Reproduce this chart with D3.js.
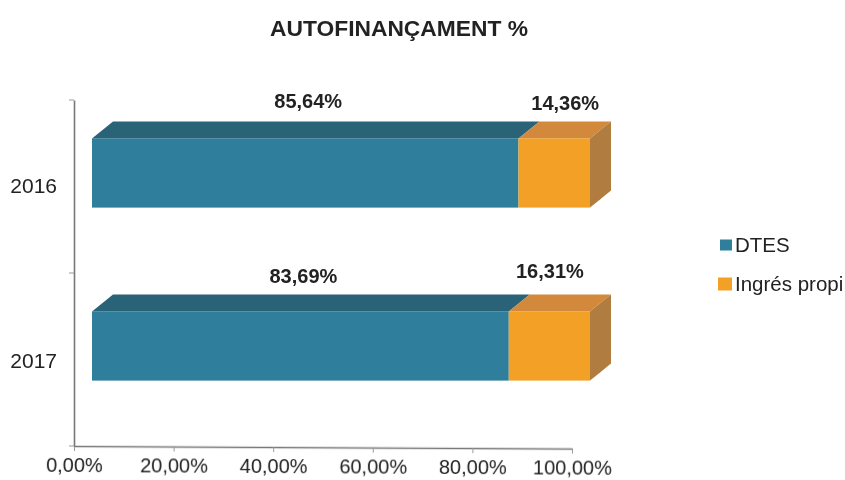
<!DOCTYPE html>
<html><head><meta charset="utf-8">
<script src="https://cdn.jsdelivr.net/npm/d3@7"></script>
<style>html,body{margin:0;background:#fff}svg{display:block}text{font-family:"Liberation Sans",Arial,sans-serif;fill:#222}</style>
</head><body><svg id="c" width="845" height="480"></svg>
<script>
const categories = ["2016","2017"];
const seriesNames = ["DTES","Ingrés propi"];
const dtes = [85.64,83.69];
const ingres = [14.36,16.31];
const xTicks = [0,20,40,60,80,100];
const title = "AUTOFINANÇAMENT %";

const svg = d3.select("#c");
const fmt = v => v.toFixed(2).replace(".",",")+"%";
const x = d3.scaleLinear().domain([0,100]).range([74,572]);
const y = d3.scaleBand().domain(categories).range([100,446]).paddingInner(.6).paddingOuter(.3);
const yAxisBand = d3.scaleBand().domain(categories).range([100,446]);
const front = {dx:18,dy:-13.5}, depth = {dx:21,dy:-17};
const pal = [{f:"#2f7e9c",t:"#2b6378",s:"#2b6378"},{f:"#f2a128",t:"#d2893a",s:"#b17c40"}];
const defs = svg.append("defs");
defs.append("filter").attr("id","scan").append("feGaussianBlur").attr("stdDeviation",0.4);
const root = svg.append("g").attr("filter","url(#scan)");

root.append("text").attr("x",399).attr("y",36).attr("text-anchor","middle").attr("font-size",22.8).attr("font-weight","bold").text(title);

const gx = root.append("g").attr("transform","rotate(0.3 74 446) translate(0,446)")
  .call(d3.axisBottom(x).tickValues(xTicks).tickFormat(v=>fmt(v)).tickSize(5).tickSizeOuter(0));
const gy = root.append("g").attr("transform","translate(74,0)")
  .call(d3.axisLeft(yAxisBand).tickSize(0).tickPadding(17));
gy.append("g").selectAll("line").data([100,273,446]).join("line")
  .attr("x1",-5).attr("x2",0).attr("y1",d=>d).attr("y2",d=>d).attr("stroke","#999");
root.selectAll(".domain").attr("stroke","#777").attr("stroke-width",1.6);
gx.selectAll(".tick line").attr("stroke","#999");
gx.selectAll("text").attr("font-size",20).attr("y",8).attr("dy","0.9em").attr("fill","#333");
gy.selectAll("text").attr("font-size",21).attr("fill","#333").attr("dy",(d,i)=>i?"0.42em":"0.32em");
gx.attr("font-family",null); gy.attr("font-family",null);

const pts = a => a.map(p=>p.join(",")).join(" ");
const labelOff = [[[3,-1.5],[11,0.5]],[[3,0.5],[0.5,-4]]];
categories.forEach((c,i)=>{
  const top = y(c)+front.dy, h = y.bandwidth();
  const segs = [[0,dtes[i]],[dtes[i],100]];
  const g = root.append("g");
  segs.forEach(([a,b],k)=>{
    const x0 = x(a)+front.dx, x1 = x(b)+front.dx;
    g.append("polygon").attr("fill",pal[k].t).attr("points",pts([[x0,top],[x1,top],[x1+depth.dx,top+depth.dy],[x0+depth.dx,top+depth.dy]]));
    g.append("rect").attr("x",x0).attr("y",top).attr("width",x1-x0).attr("height",h).attr("fill",pal[k].f);
    if(k===1) g.append("polygon").attr("fill",pal[k].s).attr("points",pts([[x1,top],[x1+depth.dx,top+depth.dy],[x1+depth.dx,top+h+depth.dy],[x1,top+h]]));
    const v = k===0?dtes[i]:ingres[i], off = labelOff[i][k];
    root.append("text").attr("x",(x0+x1)/2+off[0]).attr("y",top+depth.dy+off[1]-12).attr("text-anchor","middle")
      .attr("font-size",20).attr("font-weight","bold").text(fmt(v));
  });
});
const lg = root.append("g").selectAll("g").data(seriesNames).join("g").attr("transform",(d,i)=>`translate(720,${245+i*39})`);
lg.append("rect").attr("x",(d,i)=>i?-2:0).attr("y",(d,i)=>i?-6.5:-5.5).attr("width",(d,i)=>i?14:12).attr("height",(d,i)=>i?13:11).attr("fill",(d,i)=>pal[i].f);
lg.append("text").attr("x",15).attr("y",7).attr("font-size",20.5).text(d=>d);
</script></body></html>
